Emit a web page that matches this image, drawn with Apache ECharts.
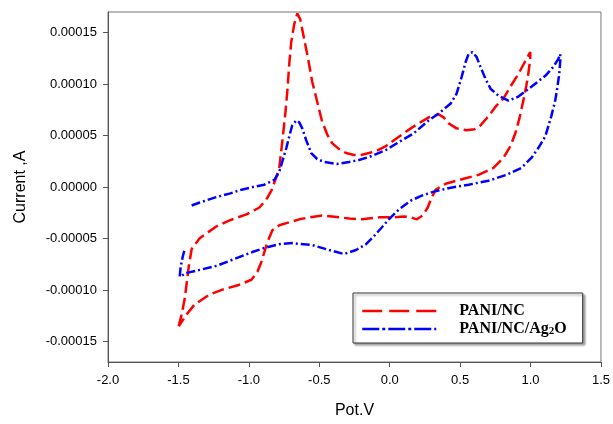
<!DOCTYPE html>
<html>
<head>
<meta charset="utf-8">
<script src="https://cdn.jsdelivr.net/npm/echarts@6/dist/echarts.min.js"></script>
<style>
html,body{margin:0;padding:0;background:#fff;}
#c{width:613px;height:424px;}
</style>
</head>
<body>
<div id="c"></div>
<script>
// ---- data (Pot / V, Current / A) ----
var seriesNames = ['PANI/NC', 'PANI/NC/Ag2O'];

var xTicks = [-2.0, -1.5, -1.0, -0.5, 0.0, 0.5, 1.0, 1.5];
var yTicks = [-0.00015, -0.00010, -0.00005, 0, 0.00005, 0.00010, 0.00015];

var paniNC = [
  [-1.498,-1.353e-4],[-1.477,-1.237e-4],[-1.455,-1.084e-4],[-1.427,-7.76e-5],[-1.406,-6.03e-5],
  [-1.349,-4.97e-5],[-1.229,-3.82e-5],[-1.137,-3.24e-5],[-1.017,-2.66e-5],[-0.925,-1.99e-5],
  [-0.876,-1.22e-5],[-0.840,-3.6e-6],[-0.812,7.0e-6],[-0.784,1.86e-5],[-0.762,4.45e-5],
  [-0.741,7.14e-5],[-0.727,9.26e-5],[-0.713,1.195e-4],[-0.699,1.407e-4],[-0.678,1.580e-4],
  [-0.656,1.686e-4],[-0.635,1.628e-4],[-0.607,1.436e-4],[-0.579,1.243e-4],[-0.550,1.022e-4],
  [-0.515,8.30e-5],[-0.480,6.37e-5],[-0.444,5.12e-5],[-0.409,4.26e-5],[-0.359,3.68e-5],
  [-0.310,3.30e-5],[-0.253,3.11e-5],[-0.204,3.11e-5],[-0.147,3.30e-5],[-0.098,3.49e-5],
  [-0.027,3.97e-5],[0.030,4.55e-5],[0.100,5.22e-5],[0.171,5.89e-5],[0.277,6.76e-5],
  [0.348,7.05e-5],[0.383,6.76e-5],[0.419,6.18e-5],[0.475,5.70e-5],[0.546,5.51e-5],
  [0.602,5.61e-5],[0.645,5.99e-5],[0.687,6.66e-5],[0.716,7.14e-5],[0.758,7.91e-5],
  [0.807,8.59e-5],[0.857,9.74e-5],[0.914,1.099e-4],[0.963,1.224e-4],[0.998,1.311e-4],
  [0.998,1.243e-4],[0.984,1.099e-4],[0.970,9.84e-5],[0.949,8.39e-5],[0.921,6.66e-5],
  [0.892,5.22e-5],[0.857,3.97e-5],[0.807,2.82e-5],[0.737,1.86e-5],[0.631,1.18e-5],
  [0.525,8.0e-6],[0.397,3.2e-6],[0.327,-2.6e-6],[0.298,-1.03e-5],[0.270,-1.99e-5],
  [0.235,-2.76e-5],[0.192,-3.14e-5],[0.150,-2.95e-5],[0.100,-2.86e-5],[0.030,-2.95e-5],
  [-0.076,-2.95e-5],[-0.197,-3.14e-5],[-0.289,-3.05e-5],[-0.359,-2.95e-5],[-0.480,-2.76e-5],
  [-0.571,-2.95e-5],[-0.642,-3.14e-5],[-0.713,-3.43e-5],[-0.784,-3.72e-5],[-0.833,-4.20e-5],
  [-0.868,-5.36e-5],[-0.890,-6.32e-5],[-0.911,-7.28e-5],[-0.939,-8.24e-5],[-0.982,-9.01e-5],
  [-1.067,-9.49e-5],[-1.187,-9.97e-5],[-1.279,-1.045e-4],[-1.385,-1.141e-4],[-1.441,-1.237e-4],
  [-1.498,-1.353e-4]
];

var paniNCAg2O = [
  [-1.406,-1.80e-5],[-1.349,-1.51e-5],[-1.243,-1.03e-5],[-1.137,-6.4e-6],[-1.052,-2.6e-6],
  [-0.960,3.0e-7],[-0.890,2.2e-6],[-0.819,7.0e-6],[-0.784,1.47e-5],[-0.755,2.82e-5],
  [-0.734,3.78e-5],[-0.713,4.93e-5],[-0.692,5.99e-5],[-0.663,6.47e-5],[-0.642,6.28e-5],
  [-0.621,5.70e-5],[-0.593,4.55e-5],[-0.557,3.30e-5],[-0.515,2.72e-5],[-0.465,2.43e-5],
  [-0.373,2.24e-5],[-0.289,2.43e-5],[-0.218,2.62e-5],[-0.147,2.91e-5],[-0.027,3.59e-5],
  [0.065,4.36e-5],[0.171,5.22e-5],[0.277,6.47e-5],[0.348,7.14e-5],[0.433,8.11e-5],
  [0.475,9.07e-5],[0.511,1.070e-4],[0.539,1.214e-4],[0.560,1.291e-4],[0.588,1.311e-4],
  [0.617,1.262e-4],[0.645,1.166e-4],[0.680,1.051e-4],[0.716,9.55e-5],[0.772,8.87e-5],
  [0.843,8.39e-5],[0.914,8.78e-5],[1.006,9.74e-5],[1.105,1.080e-4],[1.161,1.166e-4],
  [1.197,1.243e-4],[1.211,1.291e-4],
  [1.211,1.224e-4],[1.204,1.099e-4],[1.189,9.55e-5],[1.175,8.39e-5],[1.147,6.86e-5],
  [1.105,4.93e-5],[1.055,3.78e-5],[1.006,2.82e-5],[0.935,1.86e-5],[0.829,1.18e-5],
  [0.701,6.1e-6],[0.560,2.2e-6],[0.433,-7.0e-7],[0.313,-4.5e-6],[0.228,-8.4e-6],
  [0.150,-1.32e-5],[0.065,-2.18e-5],[-0.006,-3.14e-5],[-0.055,-3.91e-5],[-0.112,-4.78e-5],
  [-0.168,-5.55e-5],[-0.239,-6.12e-5],[-0.324,-6.51e-5],[-0.430,-6.12e-5],[-0.550,-5.64e-5],
  [-0.692,-5.45e-5],[-0.784,-5.55e-5],[-0.890,-5.93e-5],[-0.975,-6.32e-5],[-1.102,-6.99e-5],
  [-1.229,-7.66e-5],[-1.349,-8.05e-5],[-1.441,-8.34e-5],[-1.491,-8.72e-5],[-1.498,-8.82e-5],
  [-1.484,-7.76e-5],[-1.470,-6.80e-5],[-1.455,-6.03e-5]
];

// ---- chart ----
var chart = echarts.init(document.getElementById('c'), null, {renderer: 'canvas'});
var axisColor = '#555';
var labelFont = {color: '#000', fontFamily: 'Liberation Sans, Arial, sans-serif', fontSize: 13};
var serif = 'Liberation Serif, Times New Roman, serif';
var hiddenSymbol = {color: 'rgba(0,0,0,0)', borderColor: 'rgba(0,0,0,0)', borderWidth: 0, opacity: 0};

chart.setOption({
  animation: false,
  backgroundColor: '#fff',
  grid: {
    left: 108, right: 10, top: 12, bottom: 56,
    show: true, borderColor: '#777', borderWidth: 1, backgroundColor: 'transparent'
  },
  xAxis: {
    type: 'value',
    min: xTicks[0], max: xTicks[xTicks.length - 1], interval: 0.5,
    name: 'Pot.V', nameLocation: 'middle', nameGap: 41,
    nameTextStyle: {color: '#000', fontFamily: 'Liberation Sans, Arial, sans-serif', fontSize: 16},
    axisLine: {show: true, onZero: false, lineStyle: {color: axisColor, width: 1}},
    axisTick: {show: true, inside: false, length: 5, lineStyle: {color: axisColor}},
    axisLabel: Object.assign({margin: 12, formatter: function (v) { return v.toFixed(1); }}, labelFont),
    splitLine: {show: false}
  },
  yAxis: {
    type: 'value',
    min: -0.00017, max: 0.00017,
    name: 'Current ,A', nameLocation: 'middle', nameGap: 79, nameRotate: 90,
    nameTextStyle: {color: '#000', fontFamily: 'Liberation Sans, Arial, sans-serif', fontSize: 16},
    axisLine: {show: true, onZero: false, lineStyle: {color: axisColor, width: 1}},
    axisTick: {show: true, inside: false, length: 5, lineStyle: {color: axisColor}, customValues: yTicks},
    axisLabel: Object.assign({margin: 11, customValues: yTicks, formatter: function (v) { return v.toFixed(5); }}, labelFont),
    splitLine: {show: false}
  },
  legend: {
    left: 353, top: 293, orient: 'vertical',
    padding: [10, 16, 6, 8],
    itemWidth: 74, itemHeight: 14, itemGap: 2,
    backgroundColor: '#fff', borderColor: '#333', borderWidth: 1,
    shadowColor: 'rgba(0,0,0,0.35)', shadowBlur: 2, shadowOffsetX: 2, shadowOffsetY: 2,
    textStyle: {
      color: '#000', fontFamily: serif, fontWeight: 'bold',
      fontSize: 16, lineHeight: 16, padding: [0, 0, 0, 18],
      rich: {
        a: {color: '#000', fontFamily: serif, fontWeight: 'bold', fontSize: 16},
        s: {color: '#000', fontFamily: serif, fontWeight: 'bold', fontSize: 11, verticalAlign: 'bottom', padding: [6, 0, 0, 0]}
      }
    },
    formatter: function (name) {
      if (name === 'PANI/NC/Ag2O') return '{a|PANI/NC/Ag}{s|2}{a|O}';
      return '{a|' + name + '}';
    },
    data: [
      {name: seriesNames[0], itemStyle: hiddenSymbol, lineStyle: {color: '#ff0000', width: 2.5, type: [20, 7], opacity: 1}},
      {name: seriesNames[1], itemStyle: hiddenSymbol, lineStyle: {color: '#0000ff', width: 2.5, type: [17, 3, 3, 3], opacity: 1}}
    ]
  },
  series: [
    {
      name: seriesNames[0], type: 'line', data: paniNC, symbol: 'none', smooth: false,
      lineStyle: {color: '#ff0000', width: 2.5, type: [12, 5]},
      itemStyle: {color: '#ff0000'}
    },
    {
      name: seriesNames[1], type: 'line', data: paniNCAg2O, symbol: 'none', smooth: false,
      lineStyle: {color: '#0000ff', width: 2.5, type: [9, 3, 2, 3]},
      itemStyle: {color: '#0000ff'}
    }
  ]
});
</script>
</body>
</html>
